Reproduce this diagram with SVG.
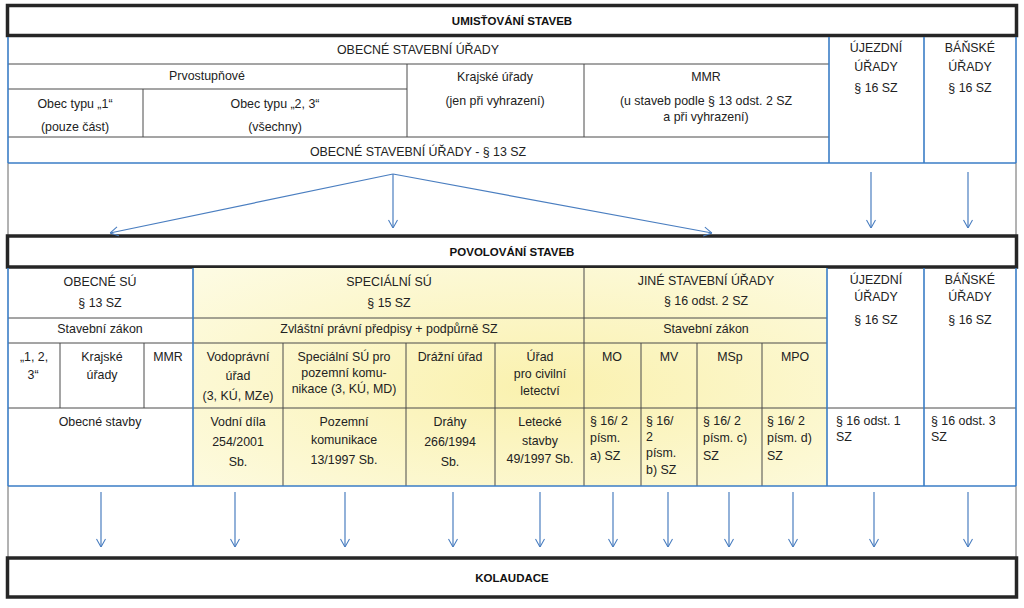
<svg xmlns="http://www.w3.org/2000/svg" width="1024" height="608" viewBox="0 0 1024 608">
<style>
.t{font-family:"Liberation Sans",Arial,sans-serif;font-size:12.4px;fill:#222;text-anchor:middle}
.l{text-anchor:start}
.h{font-weight:bold;font-size:11.5px;fill:#111}
.g{stroke:#4a4a4a;stroke-width:1;fill:none}
.b{stroke:#3a7dc6;stroke-width:1.6;fill:none}
.f{stroke:#666;stroke-width:1;fill:none}
.box{fill:#fff;stroke:#262626;stroke-width:3.5}
.a{stroke:#4a7ec0;stroke-width:1.2;fill:none;marker-end:url(#ah)}
</style>
<defs>
<marker id="ah" viewBox="0 0 10 12" refX="10" refY="6" markerWidth="9" markerHeight="11" markerUnits="userSpaceOnUse" orient="auto">
<path d="M1,1 L10,6 L1,11" fill="none" stroke="#4a7ec0" stroke-width="1.2"/>
</marker>
<radialGradient id="yl" cx="0.55" cy="0.55" r="0.75">
<stop offset="0" stop-color="#faf1ae"/>
<stop offset="1" stop-color="#fdfbe2"/>
</radialGradient>
</defs>
<rect width="1024" height="608" fill="#fff"/>

<g id="frames">
<line class="f" x1="8" y1="163" x2="8" y2="237"/>
<line class="f" x1="1016" y1="163" x2="1016" y2="237"/>
<line class="f" x1="8" y1="486" x2="8" y2="558"/>
<line class="f" x1="1016" y1="486" x2="1016" y2="558"/>
</g>

<g id="umistovani">
<rect class="box" x="7.5" y="5.5" width="1009" height="30"/>
<text class="t h" x="512" y="24.5">UMISŤOVÁNÍ STAVEB</text>
</g>

<g id="umistovani-table">
<line class="g" x1="8" y1="64" x2="829" y2="64"/>
<line class="g" x1="8" y1="89" x2="407" y2="89"/>
<line class="g" x1="8" y1="137" x2="829" y2="137"/>
<line class="g" x1="143" y1="89" x2="143" y2="137"/>
<line class="g" x1="407" y1="64" x2="407" y2="137"/>
<line class="g" x1="584" y1="64" x2="584" y2="137"/>
<line class="b" x1="8" y1="37" x2="8" y2="163"/>
<line class="b" x1="1016" y1="37" x2="1016" y2="163"/>
<line class="b" x1="829" y1="37" x2="829" y2="163"/>
<line class="b" x1="924" y1="37" x2="924" y2="163"/>
<line class="b" x1="8" y1="163" x2="1016" y2="163"/>
</g>
<g id="u-obecne"><text class="t" x="418" y="54">OBECNÉ STAVEBNÍ ÚŘADY</text></g>
<g id="u-prvostupnove"><text class="t" x="207" y="80">Prvostupňové</text></g>
<g id="u-obec1"><text class="t" x="75" y="108">Obec typu „1“</text><text class="t" x="75" y="131">(pouze část)</text></g>
<g id="u-obec23"><text class="t" x="275" y="108">Obec typu „2, 3“</text><text class="t" x="275" y="131">(všechny)</text></g>
<g id="u-krajske"><text class="t" x="495" y="81">Krajské úřady</text><text class="t" x="495" y="105">(jen při vyhrazení)</text></g>
<g id="u-mmr"><text class="t" x="706" y="81">MMR</text><text class="t" x="706" y="105">(u staveb podle § 13 odst. 2 SZ</text><text class="t" x="706" y="121">a při vyhrazení)</text></g>
<g id="u-obecne13"><text class="t" x="418" y="156">OBECNÉ STAVEBNÍ ÚŘADY - § 13 SZ</text></g>
<g id="u-ujezdni"><text class="t" x="876" y="52">ÚJEZDNÍ</text><text class="t" x="876" y="71">ÚŘADY</text><text class="t" x="876" y="92">§ 16 SZ</text></g>
<g id="u-banske"><text class="t" x="970" y="52">BÁŇSKÉ</text><text class="t" x="970" y="71">ÚŘADY</text><text class="t" x="970" y="92">§ 16 SZ</text></g>

<g id="povolovani">
<rect class="box" x="7.5" y="236" width="1009" height="31"/>
<text class="t h" x="512" y="256">POVOLOVÁNÍ STAVEB</text>
</g>

<g id="povolovani-table">
<rect x="193" y="268" width="634" height="218" fill="url(#yl)"/>
<line class="g" x1="8" y1="318" x2="827" y2="318"/>
<line class="g" x1="8" y1="343" x2="827" y2="343"/>
<line class="g" x1="8" y1="408" x2="1016" y2="408"/>
<line class="g" x1="60" y1="343" x2="60" y2="408"/>
<line class="g" x1="144" y1="343" x2="144" y2="408"/>
<line class="g" x1="283" y1="343" x2="283" y2="486"/>
<line class="g" x1="406" y1="343" x2="406" y2="486"/>
<line class="g" x1="495" y1="343" x2="495" y2="486"/>
<line class="g" x1="584" y1="268" x2="584" y2="486"/>
<line class="g" x1="641" y1="343" x2="641" y2="486"/>
<line class="g" x1="697" y1="343" x2="697" y2="486"/>
<line class="g" x1="762" y1="343" x2="762" y2="486"/>
<line class="b" x1="8" y1="268" x2="8" y2="486"/>
<line class="b" x1="193" y1="268" x2="193" y2="486"/>
<line class="b" x1="827" y1="268" x2="827" y2="486"/>
<line class="b" x1="924" y1="268" x2="924" y2="486"/>
<line class="b" x1="1016" y1="268" x2="1016" y2="486"/>
<line class="b" x1="8" y1="486" x2="1016" y2="486"/>
</g>
<g id="p-obecne"><text class="t" x="100" y="286">OBECNÉ SÚ</text><text class="t" x="100" y="307">§ 13 SZ</text></g>
<g id="p-obecne-zakon"><text class="t" x="100" y="333">Stavební zákon</text></g>
<g id="p-123"><text class="t" x="34" y="361">„1, 2,</text><text class="t" x="33" y="379">3“</text></g>
<g id="p-krajske"><text class="t" x="102" y="361">Krajské</text><text class="t" x="102" y="379">úřady</text></g>
<g id="p-mmr"><text class="t" x="168" y="361">MMR</text></g>
<g id="p-obecne-stavby"><text class="t" x="100" y="426">Obecné stavby</text></g>
<g id="p-specialni"><text class="t" x="389" y="286">SPECIÁLNÍ SÚ</text><text class="t" x="389" y="307">§ 15 SZ</text></g>
<g id="p-specialni-predpisy"><text class="t" x="389" y="333">Zvláštní právní předpisy + podpůrně SZ</text></g>
<g id="p-vodopravni"><text class="t" x="238" y="361">Vodoprávní</text><text class="t" x="238" y="380">úřad</text><text class="t" x="238" y="400">(3, KÚ, MZe)</text></g>
<g id="p-spec-pk"><text class="t" x="344" y="361">Speciální SÚ pro</text><text class="t" x="344" y="377">pozemní komu-</text><text class="t" x="344" y="393">nikace (3, KÚ, MD)</text></g>
<g id="p-drazni"><text class="t" x="450" y="361">Drážní úřad</text></g>
<g id="p-letectvi"><text class="t" x="540" y="361">Úřad</text><text class="t" x="540" y="378">pro civilní</text><text class="t" x="540" y="395">letectví</text></g>
<g id="p-vodni"><text class="t" x="238" y="426">Vodní díla</text><text class="t" x="238" y="446">254/2001</text><text class="t" x="238" y="466">Sb.</text></g>
<g id="p-pozemni"><text class="t" x="344" y="426">Pozemní</text><text class="t" x="344" y="444">komunikace</text><text class="t" x="344" y="464">13/1997 Sb.</text></g>
<g id="p-drahy"><text class="t" x="450" y="426">Dráhy</text><text class="t" x="450" y="446">266/1994</text><text class="t" x="450" y="466">Sb.</text></g>
<g id="p-letecke"><text class="t" x="540" y="426">Letecké</text><text class="t" x="540" y="445">stavby</text><text class="t" x="540" y="463">49/1997 Sb.</text></g>
<g id="p-jine"><text class="t" x="706" y="285">JINÉ STAVEBNÍ ÚŘADY</text><text class="t" x="706" y="305">§ 16 odst. 2 SZ</text></g>
<g id="p-jine-zakon"><text class="t" x="706" y="333">Stavební zákon</text></g>
<g id="p-mo"><text class="t" x="612" y="361">MO</text><text class="t l" x="590" y="425">§ 16/ 2</text><text class="t l" x="590" y="442">písm.</text><text class="t l" x="590" y="460">a) SZ</text></g>
<g id="p-mv"><text class="t" x="669" y="361">MV</text><text class="t l" x="646" y="425">§ 16/</text><text class="t l" x="646" y="441">2</text><text class="t l" x="646" y="457">písm.</text><text class="t l" x="646" y="474">b) SZ</text></g>
<g id="p-msp"><text class="t" x="730" y="361">MSp</text><text class="t l" x="703" y="425">§ 16/ 2</text><text class="t l" x="703" y="442">písm. c)</text><text class="t l" x="703" y="460">SZ</text></g>
<g id="p-mpo"><text class="t" x="795" y="361">MPO</text><text class="t l" x="767" y="425">§ 16/ 2</text><text class="t l" x="767" y="442">písm. d)</text><text class="t l" x="767" y="460">SZ</text></g>
<g id="p-ujezdni"><text class="t" x="876" y="284">ÚJEZDNÍ</text><text class="t" x="876" y="301">ÚŘADY</text><text class="t" x="876" y="324">§ 16 SZ</text><text class="t l" x="836" y="425">§ 16 odst. 1</text><text class="t l" x="836" y="441">SZ</text></g>
<g id="p-banske"><text class="t" x="970" y="284">BÁŇSKÉ</text><text class="t" x="970" y="301">ÚŘADY</text><text class="t" x="970" y="324">§ 16 SZ</text><text class="t l" x="931" y="425">§ 16 odst. 3</text><text class="t l" x="931" y="441">SZ</text></g>

<g id="kolaudace">
<rect class="box" x="7.5" y="558" width="1009" height="39"/>
<text class="t h" x="512" y="582">KOLAUDACE</text>
</g>

<g id="connectors">
<line class="a" x1="393" y1="174" x2="110" y2="233"/>
<line class="a" x1="393" y1="174" x2="393" y2="228"/>
<line class="a" x1="393" y1="174" x2="712" y2="233"/>
<line class="a" x1="871" y1="172" x2="871" y2="228"/>
<line class="a" x1="968" y1="172" x2="968" y2="228"/>
<line class="a" x1="101" y1="492" x2="101" y2="547"/>
<line class="a" x1="235" y1="492" x2="235" y2="547"/>
<line class="a" x1="345" y1="492" x2="345" y2="547"/>
<line class="a" x1="453" y1="492" x2="453" y2="547"/>
<line class="a" x1="540" y1="492" x2="540" y2="547"/>
<line class="a" x1="613" y1="492" x2="613" y2="547"/>
<line class="a" x1="668" y1="492" x2="668" y2="547"/>
<line class="a" x1="729" y1="492" x2="729" y2="547"/>
<line class="a" x1="793" y1="492" x2="793" y2="547"/>
<line class="a" x1="874" y1="492" x2="874" y2="547"/>
<line class="a" x1="968" y1="492" x2="968" y2="547"/>
</g>
</svg>
